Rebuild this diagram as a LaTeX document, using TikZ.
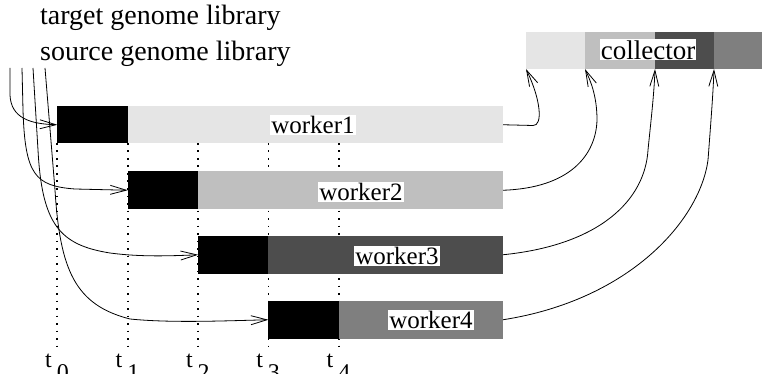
\documentclass[tikz,border=0pt]{standalone}
\usepackage{fontspec}
\setmainfont{Liberation Serif}
\usetikzlibrary{arrows.meta}
\definecolor{shadeA}{gray}{0.898}
\definecolor{shadeB}{gray}{0.749}
\definecolor{shadeC}{gray}{0.302}
\definecolor{shadeD}{gray}{0.498}

\begin{document}
\begin{tikzpicture}[x=1pt,y=-1pt,
  bar/.style={anchor=north west, inner sep=0pt, outer sep=0pt, minimum height=37.5pt},
  busy/.style={bar, fill=black, minimum width=70.4pt},
  tag/.style={fill=white, inner sep=1.5pt, font=\fontsize{25}{25}\selectfont},
  flow/.style={line width=0.8pt, -{Straight Barb[length=16pt,width=9pt,line width=0.8pt]}},
  tick/.style={line width=1.7pt, dash pattern=on 1.7pt off 5.8pt},
  timelabel/.style={anchor=base west, inner sep=0pt, font=\fontsize{24}{24}\selectfont},
]
\useasboundingbox (0,0) rectangle (762,374);

% library labels
\node[anchor=base west, inner sep=0pt, font=\fontsize{28}{28}\selectfont] (tgt) at (40,25) {target genome library};
\node[anchor=base west, inner sep=0pt, font=\fontsize{28}{28}\selectfont] (src) at (40,61) {source genome library};

% time grid
\foreach \x in {57.3,127.7,198.1,268.4,338.8}
  \draw[tick] (\x,143) -- (\x,348);
\node[timelabel] (T0) at (45,367) {t\hspace{5pt}\raisebox{-13pt}{0}};
\node[timelabel] (T1) at (115.4,367) {t\hspace{5pt}\raisebox{-13pt}{1}};
\node[timelabel] (T2) at (185.8,367) {t\hspace{5pt}\raisebox{-13pt}{2}};
\node[timelabel] (T3) at (256.1,367) {t\hspace{5pt}\raisebox{-13pt}{3}};
\node[timelabel] (T4) at (326.5,367) {t\hspace{5pt}\raisebox{-13pt}{4}};

% workers: start-up phase (black) followed by the work phase
\node[busy] (b1) at (57.3,106) {};
\node[bar, fill=shadeA, minimum width=375.3pt] (w1) at (127.7,106) {};
\node[busy] (b2) at (127.7,171.5) {};
\node[bar, fill=shadeB, minimum width=304.9pt] (w2) at (198.1,171.5) {};
\node[busy] (b3) at (198.1,236) {};
\node[bar, fill=shadeC, minimum width=234.6pt] (w3) at (268.4,236) {};
\node[busy] (b4) at (268.4,301) {};
\node[bar, fill=shadeD, minimum width=164.2pt] (w4) at (338.8,301) {};

\node[tag] (l1) at (313,125) {worker1};
\node[tag] (l2) at (361,192) {worker2};
\node[tag] (l3) at (397,256) {worker3};
\node[tag] (l4) at (431,320) {worker4};

% collector
\node[bar, minimum height=37pt, fill=shadeA, minimum width=59pt] (c1) at (526,32) {};
\node[bar, minimum height=37pt, fill=shadeB, minimum width=70pt] (c2) at (585,32) {};
\node[bar, minimum height=37pt, fill=shadeC, minimum width=59pt] (c3) at (655,32) {};
\node[bar, minimum height=37pt, fill=shadeD, minimum width=48pt] (c4) at (714,32) {};
\node[tag, font=\fontsize{27}{27}\selectfont, inner sep=1pt] (col) at (648,50) {collector};

% libraries feeding the workers
\coordinate (s1) at (10,68);
\coordinate (s2) at (22,68);
\coordinate (s3) at (33,68);
\coordinate (s4) at (45,68);
\draw[flow] (s1) -- (10,95) .. controls (11,118) and (30,124) .. (b1.west);
\draw[flow] (s2) -- (23,110) .. controls (25,175) and (35,186) .. (75,189) -- (b2.west);
\draw[flow] (s3) -- (38,150) .. controls (42,225) and (60,245) .. (110,253) .. controls (140,257) and (170,256) .. (b3.west);
\draw[flow] (s4) -- (55,190) .. controls (60,270) and (75,305) .. (130,319) .. controls (170,323) and (220,321) .. (b4.west);

% workers delivering to the collector
\draw[flow] (w1.east) -- (533,125.5) .. controls (543,126) and (541,100) .. (c1.south west);
\draw[flow] (w2.east) .. controls (570,188) and (596,155) .. (597,120) .. controls (597,95) and (590,80) .. (c2.south west);
\draw[flow] (w3.east) .. controls (600,245) and (645,200) .. (648,150) .. controls (651,120) and (654,95) .. (c3.south west);
\draw[flow] (w4.east) .. controls (630,300) and (700,220) .. (708,160) .. controls (711,120) and (713,95) .. (c4.south west);
\end{tikzpicture}
\end{document}
